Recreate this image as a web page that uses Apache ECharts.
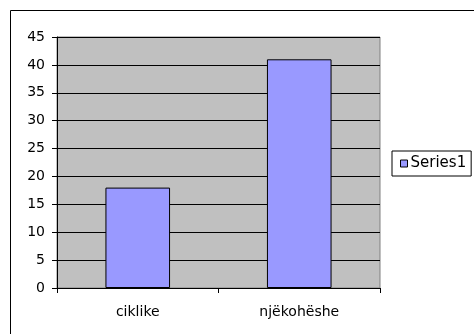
<!DOCTYPE html>
<html>
<head>
<meta charset="utf-8">
<script src="https://cdn.jsdelivr.net/npm/echarts@6/dist/echarts.min.js"></script>
<style>
  html, body { margin: 0; padding: 0; background: #fff; }
  #chart { width: 474px; height: 334px; }
</style>
</head>
<body>
<div id="chart"></div>
<script>
// data
const categories = ["ciklike", "njëkohëshe"];
const series1 = [18, 41];
const seriesName = "Series1";

const myChart = echarts.init(document.getElementById("chart"));
const option = {
  backgroundColor: "#fff",
  textStyle: { fontFamily: "DejaVu Sans, sans-serif" },
  animation: false,
  graphic: [
    {
      type: "rect",
      shape: { x: 10.5, y: 10.5, width: 480, height: 340 },
      style: { fill: "none", stroke: "#000", lineWidth: 1 },
      silent: true,
    },
  ],
  grid: {
    left: 57,
    top: 37,
    right: 94,
    bottom: 46,
    show: true,
    backgroundColor: "#c0c0c0",
    borderColor: "#808080",
    borderWidth: 1,
  },
  legend: {
    left: 392,
    top: 151,
    orient: "vertical",
    padding: [5, 5, 5, 8],
    borderColor: "#000",
    borderWidth: 1,
    icon: "rect",
    itemWidth: 7,
    itemHeight: 7,
    itemGap: 0,
    itemStyle: { borderColor: "#000", borderWidth: 1 },
    textStyle: { fontSize: 15, color: "#000", padding: [0, 0, 0, -2] },
    data: [seriesName],
  },
  xAxis: {
    type: "category",
    data: categories,
    axisLine: { lineStyle: { color: "#000", width: 1 } },
    axisTick: { show: true, length: 5, lineStyle: { color: "#000" } },
    axisLabel: { fontSize: 14, color: "#000", margin: 17 },
    splitLine: { show: false },
  },
  yAxis: {
    type: "value",
    min: 0,
    max: 45,
    interval: 5,
    axisLine: { show: true, lineStyle: { color: "#000", width: 1 } },
    axisTick: { show: true, length: 5, lineStyle: { color: "#000" } },
    axisLabel: { fontSize: 14, color: "#000", margin: 12 },
    splitLine: { show: true, lineStyle: { color: "#000", width: 1 } },
  },
  series: [
    {
      name: seriesName,
      type: "bar",
      data: series1,
      barWidth: "40%",
      itemStyle: { color: "#9999ff", borderColor: "#000", borderWidth: 1 },
    },
  ],
};
myChart.setOption(option);
</script>
</body>
</html>
